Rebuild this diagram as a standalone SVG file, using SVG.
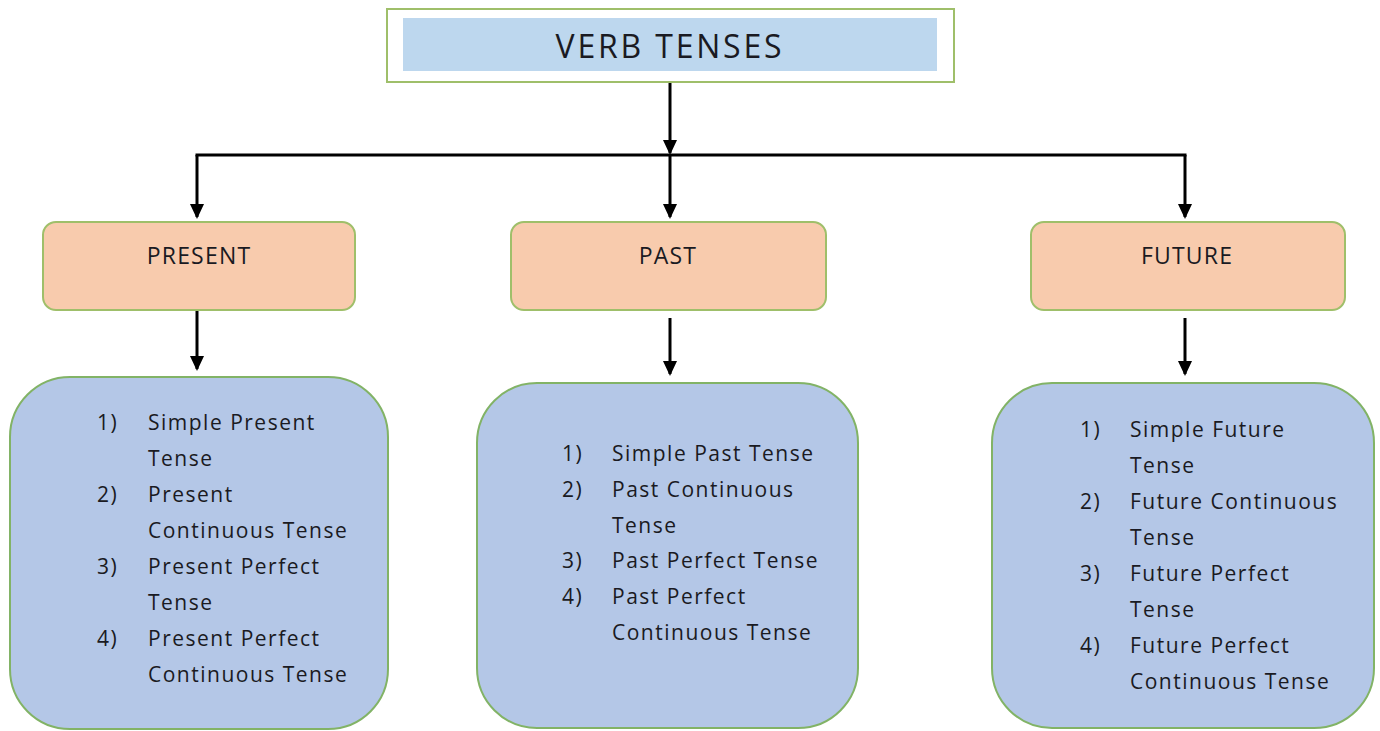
<svg xmlns="http://www.w3.org/2000/svg" width="1380" height="731" viewBox="0 0 1380 731">
<defs>
<marker id="ah" markerUnits="userSpaceOnUse" markerWidth="16" markerHeight="14" viewBox="0 0 16 14" refX="13" refY="7" orient="auto">
<path d="M0,0 L15,7 L0,14 z" fill="#000"/>
</marker>
<style>
.t{font-family:"Open Sans","Noto Sans",sans-serif;fill:#1a1a22;}
.item{font-size:21px;letter-spacing:1.5px;}
.lbl{font-size:23px;letter-spacing:1.2px;text-anchor:middle;}
.cat{fill:#f8cbad;stroke:#9fbf6a;stroke-width:2;}
.list{fill:#b4c7e7;stroke:#82b366;stroke-width:2;}
.ln{stroke:#000;stroke-width:3;fill:none;}
.arr{marker-end:url(#ah);}
</style>
</defs>
<rect width="1380" height="731" fill="#fff"/>
<g id="connectors">
<path class="ln arr" d="M670 82 V153"/>
<path class="ln" d="M197 155 H1185" stroke-linecap="square"/>
<path class="ln arr" d="M197 155 V217"/>
<path class="ln arr" d="M670 155 V217"/>
<path class="ln arr" d="M1185 155 V217"/>
<path class="ln arr" d="M197 311 V369"/>
<path class="ln arr" d="M670 318 V374"/>
<path class="ln arr" d="M1185 318 V374"/>
</g>
<g id="verb-tenses">
<rect x="387" y="9" width="567" height="73" fill="#fff" stroke="#9fbf6a" stroke-width="2"/>
<rect x="403" y="18" width="534" height="53" fill="#bdd7ee"/>
<text class="t" x="670" y="58" font-size="32" letter-spacing="2.8" text-anchor="middle">VERB TENSES</text>
</g>
<g id="present">
<rect class="cat" x="43" y="222" width="312" height="88" rx="13"/>
<text class="t lbl" x="199" y="264">PRESENT</text>
</g>
<g id="past">
<rect class="cat" x="511" y="222" width="315" height="88" rx="13"/>
<text class="t lbl" x="668" y="264">PAST</text>
</g>
<g id="future">
<rect class="cat" x="1031" y="222" width="314" height="88" rx="13"/>
<text class="t lbl" x="1187" y="264">FUTURE</text>
</g>
<g id="present-list">
<rect class="list" x="10" y="377" width="378" height="352" rx="60"/>
<text class="t item" x="97" y="430">1)</text>
<text class="t item" x="148" y="430">Simple Present</text>
<text class="t item" x="148" y="466">Tense</text>
<text class="t item" x="97" y="502">2)</text>
<text class="t item" x="148" y="502">Present</text>
<text class="t item" x="148" y="538">Continuous Tense</text>
<text class="t item" x="97" y="574">3)</text>
<text class="t item" x="148" y="574">Present Perfect</text>
<text class="t item" x="148" y="610">Tense</text>
<text class="t item" x="97" y="646">4)</text>
<text class="t item" x="148" y="646">Present Perfect</text>
<text class="t item" x="148" y="682">Continuous Tense</text>
</g>
<g id="past-list">
<rect class="list" x="477" y="383" width="381" height="345" rx="60"/>
<text class="t item" x="562" y="461">1)</text>
<text class="t item" x="612" y="461">Simple Past Tense</text>
<text class="t item" x="562" y="497">2)</text>
<text class="t item" x="612" y="497">Past Continuous</text>
<text class="t item" x="612" y="533">Tense</text>
<text class="t item" x="562" y="568">3)</text>
<text class="t item" x="612" y="568">Past Perfect Tense</text>
<text class="t item" x="562" y="604">4)</text>
<text class="t item" x="612" y="604">Past Perfect</text>
<text class="t item" x="612" y="640">Continuous Tense</text>
</g>
<g id="future-list">
<rect class="list" x="992" y="383" width="382" height="345" rx="60"/>
<text class="t item" x="1080" y="437">1)</text>
<text class="t item" x="1130" y="437">Simple Future</text>
<text class="t item" x="1130" y="473">Tense</text>
<text class="t item" x="1080" y="509">2)</text>
<text class="t item" x="1130" y="509">Future Continuous</text>
<text class="t item" x="1130" y="545">Tense</text>
<text class="t item" x="1080" y="581">3)</text>
<text class="t item" x="1130" y="581">Future Perfect</text>
<text class="t item" x="1130" y="617">Tense</text>
<text class="t item" x="1080" y="653">4)</text>
<text class="t item" x="1130" y="653">Future Perfect</text>
<text class="t item" x="1130" y="689">Continuous Tense</text>
</g>
</svg>
